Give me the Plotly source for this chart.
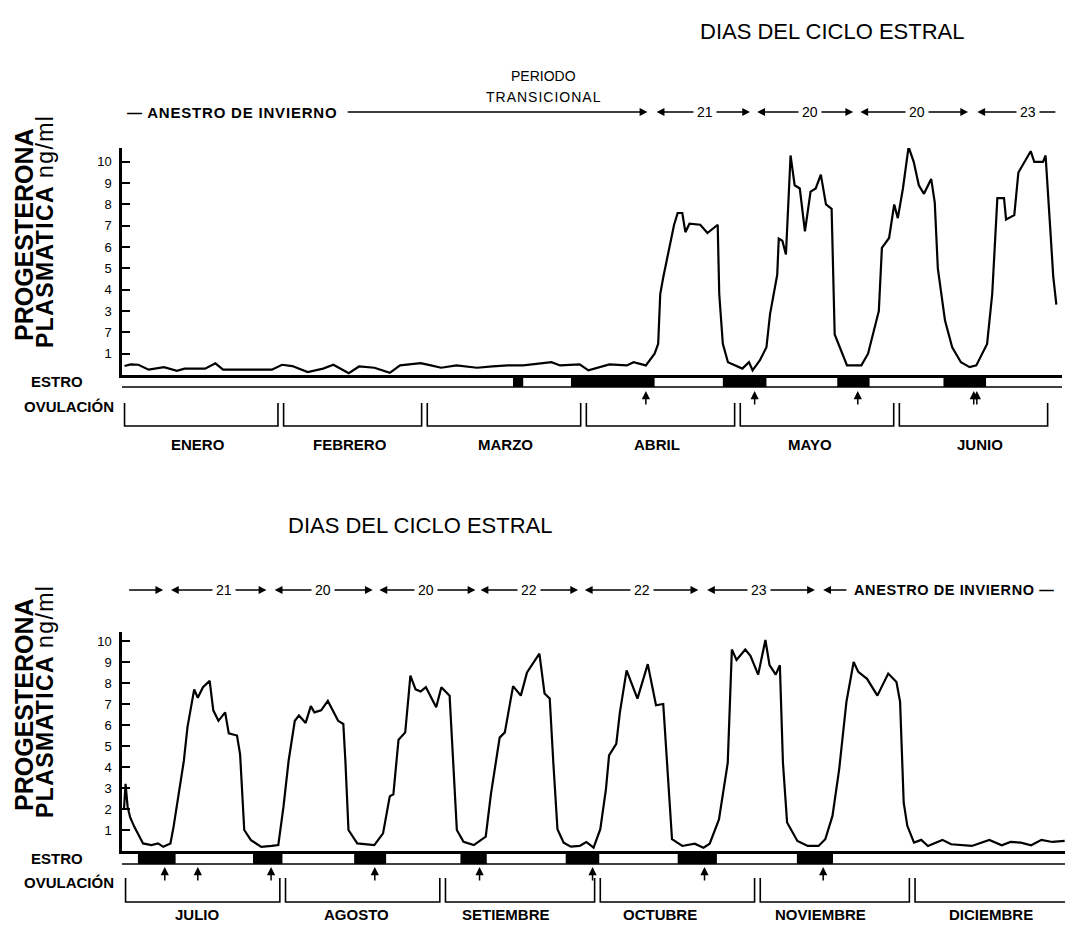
import plotly.graph_objects as go

W, H = 1065, 927
FONT = "Liberation Sans, Arial, sans-serif"

# ---------------- data: January - June (top panel) ----------------
top_days = [0.3, 1.5, 3.0, 5.0, 8.0, 10.5, 12.0, 16.0, 18.0, 19.5, 29.0, 31.0, 33.0, 36.0, 39.0,
            41.0, 44.0, 46.0, 49.0, 52.0, 54.0, 58.0, 60.0, 62.0, 65.0, 69.0, 72.0, 75.0, 78.0,
            80.5, 83.5, 85.2, 89.0, 90.7, 94.8, 98.2, 99.5, 101.9, 103.6, 104.3, 104.7, 105.3,
            106.4, 107.4, 108.1, 109.0, 109.6, 110.4, 112.5, 113.9, 115.9, 116.2, 116.9, 117.9,
            120.7, 122.0, 122.7, 124.1, 125.4, 126.1, 127.5, 127.8, 128.5, 129.2, 130.1, 130.9,
            131.9, 132.9, 134.0, 135.0, 136.0, 137.0, 138.1, 138.7, 141.1, 143.9, 145.2, 147.3,
            147.9, 149.3, 150.3, 151.0, 152.0, 153.1, 154.1, 155.1, 156.1, 157.5, 158.2, 158.8,
            160.2, 161.6, 163.3, 165.0, 166.3, 168.4, 169.4, 170.4, 171.7, 172.1, 173.7, 174.5,
            176.9, 177.6, 179.3, 179.8, 180.7, 181.3, 181.9]
top_values = [0.42, 0.5, 0.48, 0.25, 0.37, 0.2, 0.3, 0.3, 0.55, 0.25, 0.25, 0.48, 0.42, 0.14, 0.3,
              0.48, 0.08, 0.4, 0.34, 0.1, 0.45, 0.56, 0.45, 0.34, 0.45, 0.34, 0.4, 0.45, 0.45,
              0.53, 0.6, 0.45, 0.5, 0.22, 0.5, 0.45, 0.6, 0.45, 1.0, 1.46, 3.8, 4.6,
              5.8, 7.05, 7.6, 7.6, 6.7, 7.1, 7.05, 6.66, 7.05, 3.8, 1.46, 0.6,
              0.3, 0.6, 0.22, 0.68, 1.3, 2.86, 4.7, 6.4, 6.3, 5.65, 10.3, 8.9,
              8.75, 6.74, 8.6, 8.75, 9.4, 8.0, 7.8, 1.9, 0.45, 0.45, 1.0, 3.0,
              5.96, 6.43, 8.0, 7.36, 8.75, 10.7, 10.0, 8.9, 8.5, 9.2, 8.1, 5.0,
              2.55, 1.3, 0.6, 0.37, 0.45, 1.46, 3.8, 8.3, 8.3, 7.3, 7.5, 9.5,
              10.5, 10.0, 10.0, 10.3, 6.9, 4.6, 3.3]

# ---------------- data: July - December (bottom panel) ----------------
bot_days = [0.0, 0.3, 0.7, 1.2, 2.0, 3.7, 5.3, 6.6, 7.6, 9.0, 9.6, 10.6, 11.6, 12.3, 12.9, 13.6,
            14.3, 15.3, 16.6, 17.3, 18.3, 19.6, 20.3, 21.9, 22.5, 23.3, 24.6, 26.6, 28.6, 29.9,
            30.9, 31.9, 33.1, 33.9, 35.2, 36.2, 36.9, 38.2, 39.5, 41.5, 42.5, 42.9, 43.5, 45.2,
            48.5, 50.2, 51.5, 52.2, 53.2, 54.5, 55.5, 56.5, 57.5, 58.5, 60.5, 61.5, 63.1, 63.8,
            64.5, 65.8, 67.8, 70.1, 71.1, 72.8, 73.8, 75.4, 76.9, 78.1, 80.5, 81.5, 82.5, 83.2,
            84.0, 85.2, 86.6, 88.3, 89.6, 91.0, 92.3, 93.4, 94.0, 95.4, 96.1, 97.4, 99.5, 101.5,
            103.1, 104.5, 105.2, 106.2, 108.2, 110.6, 112.3, 113.5, 115.3, 117.0, 117.8, 118.7,
            120.4, 121.4, 122.9, 124.3, 125.1, 126.3, 127.1, 127.7, 128.5, 130.5, 132.5, 134.6,
            135.9, 137.3, 138.6, 140.0, 141.4, 142.3, 144.0, 146.0, 148.1, 149.7, 150.4, 151.1,
            151.8, 153.1, 154.5, 155.8, 158.6, 160.3, 164.3, 167.7, 170.1, 171.8, 173.8, 175.8,
            177.8, 179.9, 182.3]
bot_values = [2.0, 3.2, 2.1, 1.6, 1.15, 0.36, 0.28, 0.36, 0.2, 0.36, 1.15, 2.7, 4.3, 5.9, 6.7, 7.7,
              7.3, 7.8, 8.1, 6.7, 6.2, 6.6, 5.6, 5.5, 4.6, 1.0, 0.52, 0.2, 0.24, 0.28,
              2.1, 4.3, 6.2, 6.45, 6.1, 6.9, 6.6, 6.7, 7.15, 6.2, 6.05, 4.3, 1.0, 0.36,
              0.28, 0.84, 2.6, 2.7, 5.3, 5.65, 8.35, 7.7, 7.6, 7.8, 6.85, 7.8, 7.4, 4.3,
              1.0, 0.44, 0.28, 0.68, 2.7, 5.4, 5.65, 7.85, 7.4, 8.5, 9.4, 7.5, 7.26, 4.2,
              1.04, 0.4, 0.21, 0.24, 0.43, 0.16, 1.04, 2.95, 4.55, 5.1, 6.6, 8.6, 7.26, 8.9,
              6.94, 7.0, 4.2, 0.56, 0.24, 0.35, 0.16, 0.35, 1.5, 4.2, 9.6, 9.1,
              9.6, 9.3, 8.4, 10.05, 8.85, 8.4, 8.85, 4.2, 1.36, 0.48, 0.24, 0.24,
              0.56, 1.67, 3.9, 7.1, 9.0, 8.53, 8.2, 7.4, 8.45, 8.05, 7.1, 2.3,
              1.2, 0.4, 0.53, 0.24, 0.53, 0.32, 0.24, 0.53, 0.27, 0.43, 0.4, 0.27,
              0.53, 0.43, 0.48]

# ---------------- axis ticks ----------------
y_ticks = [1, 2, 3, 4, 5, 6, 7, 8, 9, 10]
top_tick_text = ["1", "7", "3", "4", "5", "6", "7", "8", "9", "10"]
bot_tick_text = ["1", "2", "3", "4", "5", "6", "7", "8", "9", "10"]

# ---------------- months ----------------
top_months = ["ENERO", "FEBRERO", "MARZO", "ABRIL", "MAYO", "JUNIO"]
top_month_start = [0, 31, 59, 90, 120, 151]
top_month_end = [31, 59, 90, 120, 151, 181]
top_month_label_day = [14.6, 44.2, 74.5, 104.1, 133.9, 167.0]
bot_months = ["JULIO", "AGOSTO", "SETIEMBRE", "OCTUBRE", "NOVIEMBRE", "DICIEMBRE"]
bot_month_start = [0, 31, 62, 92, 123, 153]
bot_month_end = [31, 62, 92, 123, 153, 184]
bot_month_label_day = [14.3, 45.0, 74.0, 103.8, 135.0, 168.0]

# ---------------- estrus periods and ovulations ----------------
top_estro_start = [76.0, 87.3, 116.9, 139.2, 159.9]
top_estro_end = [78.0, 103.6, 125.4, 145.5, 168.2]
bot_estro_start = [2.7, 25.0, 44.6, 65.2, 85.6, 107.3, 130.4]
bot_estro_end = [10.0, 30.7, 50.8, 70.3, 92.1, 114.9, 137.4]
top_ovulation = [101.9, 123.1, 143.2, 165.8, 166.4]
bot_ovulation = [7.9, 14.3, 28.5, 48.6, 68.9, 90.8, 112.5, 135.5]

# ---------------- estrous cycle lengths (days) ----------------
top_cycle_start = [104.0, 123.6, 143.7, 166.5]
top_cycle_end = [122.2, 142.3, 164.7, 181.7]
top_cycle_label = ["21", "20", "20", "23"]
top_cycle_label_day = [113.4, 133.9, 154.8, 176.4]
top_cycle_right_arrow = [True, True, True, False]
bot_cycle_start = [9.1, 29.2, 49.5, 69.1, 89.3, 113.0]
bot_cycle_end = [27.6, 48.2, 68.1, 88.0, 111.3, 133.9]
bot_cycle_label = ["21", "20", "20", "22", "22", "23"]
bot_cycle_label_day = [19.3, 38.5, 58.5, 78.4, 100.4, 123.1]


def px(p):
    return p / W


def py(p):
    return 1 - p / H


fig = go.Figure()
fig.add_trace(go.Scatter(x=top_days, y=top_values, mode="lines", xaxis="x", yaxis="y",
                         line=dict(color="black", width=2.2), cliponaxis=False,
                         hoverinfo="skip", showlegend=False))
fig.add_trace(go.Scatter(x=bot_days, y=bot_values, mode="lines", xaxis="x2", yaxis="y2",
                         line=dict(color="black", width=2.2), cliponaxis=False,
                         hoverinfo="skip", showlegend=False))


def xaxis_cfg(domain, rng, anchor):
    return dict(domain=domain, range=rng, anchor=anchor, showline=True, linewidth=2.5,
                linecolor="black", showticklabels=False, ticks="", showgrid=False,
                zeroline=False, fixedrange=True)


def yaxis_cfg(domain, rng, anchor, ticktext):
    return dict(domain=domain, range=rng, anchor=anchor, showline=True, linewidth=2.5,
                linecolor="black", ticks="inside", ticklen=8, tickwidth=2, tickcolor="black",
                tickvals=y_ticks, ticktext=ticktext, ticklabelstandoff=5,
                tickfont=dict(family=FONT, size=13, color="black"),
                showgrid=False, zeroline=False, fixedrange=True)


shapes = []
annotations = []


def panel_decor(xref, x_lo, x_hi, band_top, band_bot, est_s, est_e, ovs, m_start, m_end,
                m_names, m_label_day, br_top, br_bot, label_y, arrow_tip):
    # lower line of the estrus band
    shapes.append(dict(type="line", xref=xref, yref="paper", x0=x_lo, x1=x_hi,
                       y0=py(band_bot), y1=py(band_bot), line=dict(color="black", width=1.6)))
    for s, e in zip(est_s, est_e):
        shapes.append(dict(type="rect", xref=xref, yref="paper", x0=s, x1=e,
                           y0=py(band_bot), y1=py(band_top), fillcolor="black",
                           line=dict(width=0)))
    for d in ovs:
        annotations.append(dict(x=d, y=py(arrow_tip), xref=xref, yref="paper", ax=0, ay=15,
                                axref="pixel", ayref="pixel", text="", showarrow=True,
                                arrowhead=2, arrowsize=1.1, arrowwidth=1.5,
                                arrowcolor="black"))
    for s, e, name, ld in zip(m_start, m_end, m_names, m_label_day):
        x0, x1 = s + 0.3, e - 0.8
        path = (f"M {x0},{py(br_top)} L {x0},{py(br_bot)} L {x1},{py(br_bot)} "
                f"L {x1},{py(br_top)}")
        shapes.append(dict(type="path", xref=xref, yref="paper", path=path,
                           line=dict(color="black", width=1.6)))
        annotations.append(dict(x=ld, y=py(label_y), xref=xref, yref="paper", text=name,
                                showarrow=False, xanchor="center", yanchor="middle",
                                font=dict(family=FONT, size=15, color="black", weight="bold")))


def arrow(xref, tip, tail, yp, head=2):
    annotations.append(dict(x=tip, y=yp, xref=xref, yref="paper", ax=tail, ay=0,
                            axref=xref, ayref="pixel", text="", showarrow=True,
                            arrowhead=head, arrowsize=1.2, arrowwidth=1.3,
                            arrowcolor="black"))


def row_label(xref, x, yp, text, size=14):
    annotations.append(dict(x=x, y=yp, xref=xref, yref="paper", text=text, showarrow=False,
                            xanchor="center", yanchor="middle", bgcolor="white", borderpad=3,
                            font=dict(family=FONT, size=size, color="black")))


# ---------------- top panel decorations ----------------
panel_decor("x", -0.195, 183.0, 375, 387, top_estro_start, top_estro_end, top_ovulation,
            top_month_start, top_month_end, top_months, top_month_label_day,
            403, 426, 444, 391)
row_y_top = py(112)
arrow("x", 102.2, 43.5, row_y_top)
for s, e, ld, ra in zip(top_cycle_start, top_cycle_end, top_cycle_label_day,
                        top_cycle_right_arrow):
    arrow("x", s, ld, row_y_top)
    arrow("x", e, ld, row_y_top, head=2 if ra else 0)
for lab, ld in zip(top_cycle_label, top_cycle_label_day):
    row_label("x", ld, row_y_top, lab)
annotations.append(dict(x=0.3, y=row_y_top, xref="x", yref="paper",
                        text="<span style='letter-spacing:0.8px'>— ANESTRO DE INVIERNO</span>",
                        showarrow=False, xanchor="left", yanchor="middle",
                        font=dict(family=FONT, size=15, color="black", weight="bold")))
annotations.append(dict(x=81.9, y=py(76), xref="x", yref="paper", text="PERIODO",
                        showarrow=False, xanchor="center", yanchor="middle",
                        font=dict(family=FONT, size=14, color="black")))
annotations.append(dict(x=81.9, y=py(97), xref="x", yref="paper",
                        text="<span style='letter-spacing:1px'>TRANSICIONAL</span>",
                        showarrow=False, xanchor="center", yanchor="middle",
                        font=dict(family=FONT, size=14, color="black")))

# ---------------- bottom panel decorations ----------------
panel_decor("x2", -0.39, 182.36, 851, 864, bot_estro_start, bot_estro_end, bot_ovulation,
            bot_month_start, bot_month_end, bot_months, bot_month_label_day,
            878, 902, 914, 867)
row_y_bot = py(590)
arrow("x2", 7.6, 0.7, row_y_bot)
for s, e, ld in zip(bot_cycle_start, bot_cycle_end, bot_cycle_label_day):
    arrow("x2", s, ld, row_y_bot)
    arrow("x2", e, ld, row_y_bot)
for lab, ld in zip(bot_cycle_label, bot_cycle_label_day):
    row_label("x2", ld, row_y_bot, lab)
arrow("x2", 135.5, 140.3, row_y_bot)
annotations.append(dict(x=141.0, y=row_y_bot, xref="x2", yref="paper",
                        text="<span style='letter-spacing:0.6px'>ANESTRO DE INVIERNO —</span>",
                        showarrow=False, xanchor="left", yanchor="middle",
                        font=dict(family=FONT, size=14.5, color="black", weight="bold")))

# ---------------- titles and side labels ----------------
for cx, cy in [(832, 32), (420, 525)]:
    annotations.append(dict(x=px(cx), y=py(cy), xref="paper", yref="paper",
                            text="DIAS DEL CICLO ESTRAL", showarrow=False,
                            xanchor="center", yanchor="middle",
                            font=dict(family=FONT, size=22, color="black")))

for cy in [235, 705]:
    annotations.append(dict(x=px(24), y=py(cy), xref="paper", yref="paper",
                            text="PROGESTERONA", textangle=-90, showarrow=False,
                            xanchor="center", yanchor="middle",
                            font=dict(family=FONT, size=25, color="black", weight="bold")))
    annotations.append(dict(x=px(45), y=py(cy - 3), xref="paper", yref="paper",
                            text=("<span style='letter-spacing:1.4px'>PLASMATICA "
                                  "<span style='font-weight:normal'>ng/ml</span></span>"),
                            textangle=-90, showarrow=False,
                            xanchor="center", yanchor="middle",
                            font=dict(family=FONT, size=23, color="black", weight="bold")))

for ey, oy in [(381, 406), (858, 882)]:
    annotations.append(dict(x=px(57), y=py(ey), xref="paper", yref="paper", text="ESTRO",
                            showarrow=False, xanchor="center", yanchor="middle",
                            font=dict(family=FONT, size=15, color="black", weight="bold")))
    annotations.append(dict(x=px(116), y=py(oy), xref="paper", yref="paper",
                            text="OVULACIÓN", showarrow=False, xanchor="right",
                            yanchor="middle",
                            font=dict(family=FONT, size=15, color="black", weight="bold")))

fig.update_layout(
    width=W, height=H, margin=dict(l=0, r=0, t=0, b=0),
    paper_bgcolor="white", plot_bgcolor="white", showlegend=False,
    xaxis=xaxis_cfg([px(122), px(1062)], [-0.195, 183.0], "y"),
    yaxis=yaxis_cfg([py(375), py(148)], [0, 10.65], "x", top_tick_text),
    xaxis2=xaxis_cfg([px(122), 1.0], [-0.39, 182.36], "y2"),
    yaxis2=yaxis_cfg([py(851), py(632)], [0, 10.43], "x2", bot_tick_text),
    shapes=shapes, annotations=annotations,
)

fig.write_html("out.html", config={"displayModeBar": False},
               post_script="document.body.style.margin='0';")
